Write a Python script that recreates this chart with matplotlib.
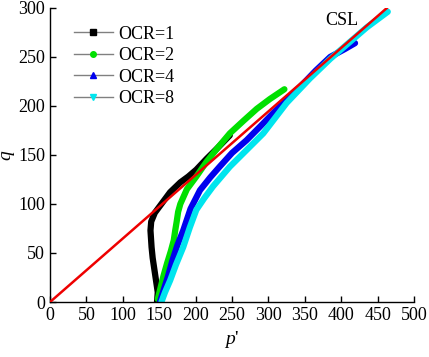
import matplotlib
matplotlib.use("Agg")
import matplotlib.pyplot as plt
from matplotlib.lines import Line2D

plt.rcParams['font.family'] = ['Liberation Serif', 'DejaVu Serif']
plt.rcParams['mathtext.fontset'] = 'custom'
plt.rcParams['mathtext.it'] = 'Liberation Serif:italic'
plt.rcParams['mathtext.rm'] = 'Liberation Serif'

labels = ["OCR=1", "OCR=2", "OCR=4", "OCR=8"]
colors = ["black", "#00e000", "#0000ee", "#00e5ee"]
markers = ["s", "o", "^", "v"]

p_ocr1 = [147, 148, 146, 144, 141, 139.5, 138, 139, 144, 155, 165, 179, 190, 201, 215, 230, 247]
q_ocr1 = [0, 10, 20, 30, 45, 56, 73, 82, 91, 102, 112, 122, 128, 135, 146, 157, 170]

p_ocr2 = [148, 152, 156, 161, 166, 170, 172, 174, 176, 179, 188, 201, 215, 230, 247, 266, 284, 302, 322]
q_ocr2 = [3, 15, 27, 40, 52, 63, 73, 82, 92, 100, 115, 128, 143, 157, 172, 185, 197, 207, 217]

p_ocr4 = [151, 156, 162, 168, 175, 183, 193, 206, 220, 233, 250, 270, 290, 307, 330, 343, 365, 385, 405, 419]
q_ocr4 = [0, 12, 26, 42, 58, 73, 95, 114, 127, 138, 152, 165, 180, 193, 210, 219, 236, 250, 258, 264]

p_ocr8 = [153, 158, 165, 173, 183, 192, 201, 212, 224, 247, 270, 293, 325, 357, 385, 410, 435, 464]
q_ocr8 = [0, 10, 22, 38, 56, 76, 94, 106, 118, 138, 155, 172, 203, 228, 248, 264, 280, 296]

csl_p = [0, 463]
csl_q = [0, 300]

series = [(p_ocr1, q_ocr1), (p_ocr2, q_ocr2), (p_ocr4, q_ocr4), (p_ocr8, q_ocr8)]

fig = plt.figure(figsize=(4.29, 3.57), dpi=100)
ax = fig.add_axes([0.1166, 0.154, 0.8484, 0.824])

for (p, q), c in zip(series, colors):
    ax.plot(p, q, color=c, lw=4.5, solid_capstyle='round', solid_joinstyle='round', zorder=2)

ax.plot(csl_p, csl_q, color="#ee0000", lw=1.8, zorder=3)
ax.text(401, 287, "CSL", fontsize=13, ha='center', va='center')

ax.set_xlim(0, 500)
ax.set_ylim(0, 300)
ax.set_xticks(range(0, 501, 50))
ax.set_yticks(range(0, 301, 50))
ax.tick_params(direction='in', length=4, labelsize=13, width=1)
for s in ['top', 'right']:
    ax.spines[s].set_visible(False)
for s in ['left', 'bottom']:
    ax.spines[s].set_linewidth(1)

ax.set_xlabel(r"$p$'", fontsize=14)
ax.set_ylabel(r"$q$", fontsize=14)
ax.yaxis.set_label_coords(-0.09, 0.5)

handles = [Line2D([0], [0], color='#808080', lw=1, marker=m, markerfacecolor=c,
                  markeredgecolor=c, ms=4) for c, m in zip(colors, markers)]
ax.legend(handles, labels, loc='upper left', bbox_to_anchor=(0.02, 0.995), frameon=False,
          fontsize=13, handlelength=2.2, labelspacing=0.25, handletextpad=0.3)

fig.savefig("out.png", dpi=100)
